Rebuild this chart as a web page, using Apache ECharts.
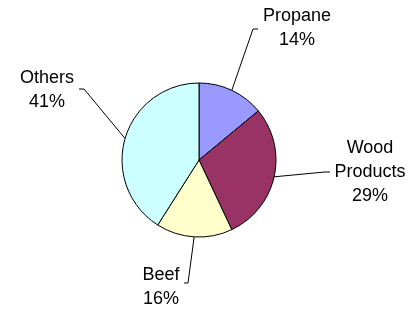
<!DOCTYPE html>
<html>
<head>
<meta charset="utf-8">
<script src="https://cdn.jsdelivr.net/npm/echarts@6/dist/echarts.min.js"></script>
<style>
    html, body { margin: 0; padding: 0; background: #ffffff; }
    #chart { width: 412px; height: 309px; }
</style>
</head>
<body>
<div id="chart"></div>
<script>
// data
var categories = ['Propane', 'Wood\nProducts', 'Beef', 'Others']
var shares = [14, 29, 16, 41]
var colors = ['#9999ff', '#993366', '#ffffcc', '#ccffff']

// label placement: text centre, line bend, line end
var labelSpots = [
    { x: 297, y: 28, bend: [253, 29], end: [258, 29] },
    { x: 370, y: 172, bend: [325, 172], end: [330, 172] },
    { x: 161, y: 287, bend: [188, 283], end: [184, 283] },
    { x: 47, y: 90, bend: [84, 89], end: [79, 89] }
]

var myChart = echarts.init(document.getElementById('chart'))

var option = {
    animation: false,
    series: [{
        type: 'pie',
        center: [199, 160],
        radius: 77,
        startAngle: 90,
        clockwise: true,
        avoidLabelOverlap: false,
        data: categories.map(function(name, i) {
            return { name: name, value: shares[i], itemStyle: { color: colors[i] } }
        }),
        itemStyle: {
            borderColor: '#000000',
            borderWidth: 1
        },
        emphasis: { disabled: true },
        label: {
            show: true,
            position: 'outside',
            formatter: function(p) {
                return p.name + '\n' + p.value + '%'
            },
            fontFamily: 'Liberation Sans, Arial, sans-serif',
            fontSize: 18,
            lineHeight: 24,
            color: '#000000',
            align: 'center'
        },
        labelLine: {
            show: true,
            lineStyle: { color: '#000000', width: 1 }
        },
        labelLayout: function(params) {
            var s = labelSpots[params.dataIndex]
            var start = params.labelLinePoints ? params.labelLinePoints[0] : s.bend
            return {
                x: s.x,
                y: s.y,
                align: 'center',
                verticalAlign: 'middle',
                labelLinePoints: [start, s.bend, s.end]
            }
        }
    }]
}

myChart.setOption(option)
</script>
</body>
</html>
